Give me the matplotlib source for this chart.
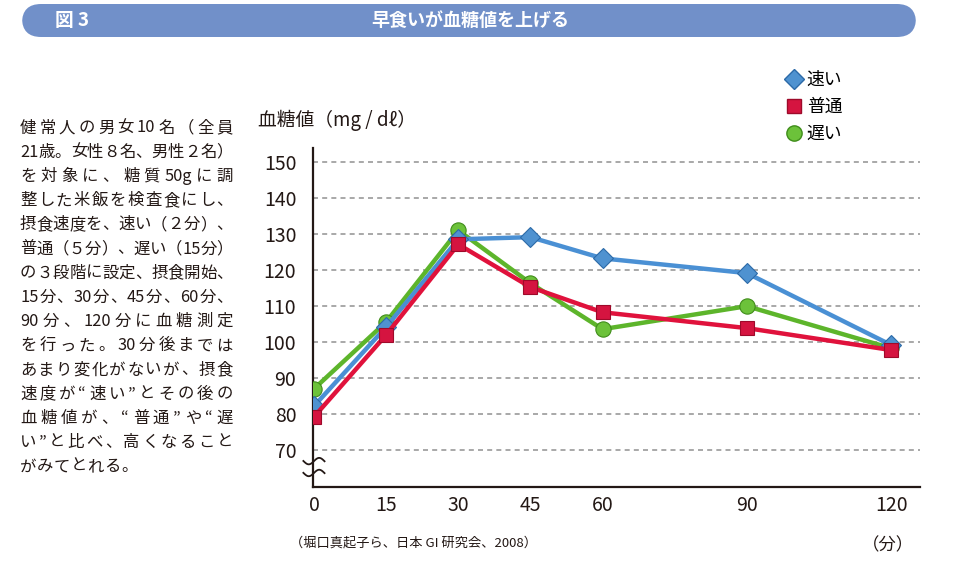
import re
import numpy as np
import matplotlib.pyplot as plt
from matplotlib.patches import FancyBboxPatch
from matplotlib.lines import Line2D

plt.rcParams['font.family'] = ['Noto Sans CJK JP', 'DejaVu Sans']

# data
minutes = [0, 15, 30, 45, 60, 90, 120]
fast = [82.2, 104.2, 128.6, 129.2, 123.3, 119.2, 99.2]     # 速い
normal = [79.2, 102.0, 127.2, 115.3, 108.3, 103.9, 97.8]   # 普通
slow = [87.0, 105.6, 131.1, 116.4, 103.6, 110.0, 98.3]     # 遅い
yticks = [70, 80, 90, 100, 110, 120, 130, 140, 150]

note_lines = [
    '健常人の男女10名（全員',
    '21歳。女性８名、男性２名）',
    'を対象に、糖質50gに調',
    '整した米飯を検査食にし、',
    '摂食速度を、速い（２分）、',
    '普通（５分）、遅い（15分）',
    'の３段階に設定、摂食開始、',
    '15分、30分、45分、60分、',
    '90分、120分に血糖測定',
    'を行った。30分後までは',
    'あまり変化がないが、摂食',
    '速度が“速い”とその後の',
    '血糖値が、“普通”や“遅',
    'い”と比べ、高くなること',
    'がみてとれる。',
]

W, H = 954, 561
fig = plt.figure(figsize=(W / 100, H / 100), dpi=100)
renderer = fig.canvas.get_renderer()
dark = '#231815'

# title bar
bar = FancyBboxPatch((22 / W, (H - 37) / H), 894 / W, 33 / H,
                     boxstyle='round,pad=0,rounding_size=0.02',
                     transform=fig.transFigure, facecolor='#7190c9',
                     edgecolor='none', mutation_aspect=W / H)
fig.patches.append(bar)
fig.text(55 / W, 1 - 20 / H, '図 3', color='white', fontsize=13.5,
         fontweight='bold', va='center', ha='left')
fig.text(470 / W, 1 - 20 / H, '早食いが血糖値を上げる', color='white',
         fontsize=13, fontweight='bold', va='center', ha='center')

# left note, justified between x=20 and x=233 px
x0, x1 = 20, 233
for i, line in enumerate(note_lines):
    y = 1 - (128 + i * 24.2) / H
    tokens = re.findall(r'[0-9A-Za-z]+|.', line)
    texts = [fig.text(0, y, tok, fontsize=11.8, color=dark, va='center',
                      ha='left') for tok in tokens]
    widths = [t.get_window_extent(renderer).width for t in texts]
    if i < len(note_lines) - 1 and len(tokens) > 1:
        gap = (x1 - x0 - sum(widths)) / (len(tokens) - 1)
    else:
        gap = 0.5
    x = x0
    for t, w in zip(texts, widths):
        t.set_x(x / W)
        x += w + gap

ax = fig.add_axes([313 / W, (H - 487) / H, (920 - 313) / W, (487 - 148) / H])
ax.set_xlim(-0.2, 126)
ax.set_ylim(59.7, 154)

for v in yticks:
    ax.axhline(v, color='#9a9a9a', lw=1.2, ls=(0, (3, 2.5)), zorder=1)

ax.plot(minutes, slow, color='#5db52b', lw=3.2, marker='o', ms=11,
        mfc='#6cc23a', mec='#3f8d1a', mew=0.8, zorder=3)
ax.plot(minutes, fast, color='#4a90d4', lw=3.2, marker='D', ms=10,
        mfc='#4f92d0', mec='#2c6aa8', mew=0.8, zorder=4)
ax.plot(minutes, normal, color='#e0123c', lw=3.2, marker='s', ms=10,
        mfc='#d51440', mec='#9e0a2a', mew=0.8, zorder=5)

ax.set_xticks(minutes)
ax.set_yticks(yticks)
ax.tick_params(length=0, labelsize=14, colors=dark)
ax.tick_params(axis='y', pad=12)
ax.tick_params(axis='x', pad=6)
for s in ['top', 'right']:
    ax.spines[s].set_visible(False)
for s in ['left', 'bottom']:
    ax.spines[s].set_color(dark)
    ax.spines[s].set_linewidth(1.6)

# axis break mark
t = np.linspace(-2.2, 2.2, 40)
for yb in [66.9, 63.6]:
    ax.plot(t, yb + 0.9 * np.sin(t * 1.45), color=dark, lw=1.3,
            clip_on=False, zorder=6)

fig.text(258 / W, 1 - 120 / H, '血糖値（mg / dℓ）', fontsize=13.5,
         color=dark, va='center', ha='left')
fig.text(290 / W, 1 - 543 / H, '（堀口真起子ら、日本 GI 研究会、2008）',
         fontsize=9.5, color=dark, va='center', ha='left')
fig.text(888 / W, 1 - 545 / H, '（分）', fontsize=12.5, color=dark,
         va='center', ha='center')

handles = [
    Line2D([], [], ls='none', marker='D', ms=10, mfc='#4f92d0', mec='#2c6aa8'),
    Line2D([], [], ls='none', marker='s', ms=10, mfc='#d51440', mec='#9e0a2a'),
    Line2D([], [], ls='none', marker='o', ms=11, mfc='#6cc23a', mec='#3f8d1a'),
]
fig.legend(handles, ['速い', '普通', '遅い'], loc='upper left',
           bbox_to_anchor=(780 / W, 1 - 64 / H), frameon=False,
           fontsize=12.8, handlelength=0.8, handletextpad=0.3,
           labelspacing=0.5, borderaxespad=0)

fig.savefig('out.png', dpi=100)
